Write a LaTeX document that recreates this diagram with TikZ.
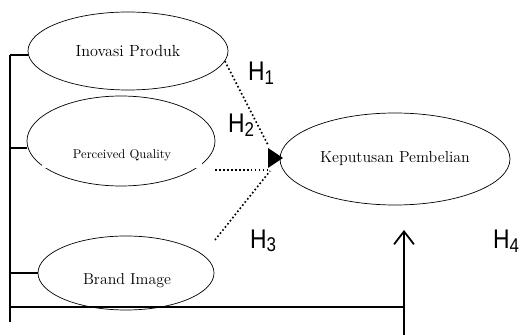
\documentclass[tikz,border=0pt]{standalone}
\usepackage{fontspec}
\usetikzlibrary{shapes.geometric,arrows.meta}
\newfontfamily\hfont{Liberation Sans}
\newcommand{\hsub}[1]{\raisebox{-3pt}{\fontsize{17}{17}\selectfont #1}}
\begin{document}
\begin{tikzpicture}[x=0.03cm,y=0.03cm,
    var/.style={draw, ellipse, inner sep=0pt, line width=0.6pt},
    hyp/.style={font=\hfont\fontsize{23}{23}\selectfont, xscale=0.85, inner sep=0pt},
    link/.style={dotted, line width=1.4pt},
    bar/.style={line width=1.5pt}]
    \useasboundingbox (0,0) rectangle (521,335);

    % Variabel
    \node[var, minimum width=6cm, minimum height=2.34cm, font=\fontsize{13.8}{14}\selectfont] (inov) at (128,284) {Inovasi Produk};
    \node[var, minimum width=5.64cm, minimum height=2.7cm] (perc) at (121,194) {};
    \node[fill=white, minimum width=4.8cm, minimum height=0.8cm, font=\fontsize{10.8}{11}\selectfont] (perct) at (122,180) {Perceived Quality};
    \node[var, minimum width=5.28cm, minimum height=2.22cm] (brand) at (126,62) {};
    \node[font=\fontsize{13.5}{14}\selectfont] (brandt) at (127,54) {Brand Image};
    \node[var, minimum width=6.9cm, minimum height=2.76cm, font=\fontsize{13.6}{14}\selectfont] (kep) at (395,176) {Keputusan Pembelian};

    % Garis kiri
    \draw[bar] (10,280) -- (10,13);
    \foreach \n/\y in {inov/280, perc/187, brand/62}
        \draw[bar] (10,\y) -- (\n.west |- 0,\y);
    \draw[bar] (10,28) -- (404,28);

    % Panah simultan
    \coordinate (up) at (404,105);
    \draw[bar, -{Straight Barb[length=11pt, width=17pt]}] (404,0) -- (up);

    % Garis putus-putus
    \coordinate (m1) at (268,190);
    \coordinate (s2) at (215,165);
    \coordinate (m2) at (268,165);
    \coordinate (s3) at (215,95);
    \coordinate (m3) at (270,164);
    \draw[link] (inov.-6) -- (m1);
    \draw[link] (s2) -- (m2);
    \draw[link] (s3) -- (m3);
    \fill (268,187) -- (283,177) -- (268,167) -- cycle;

    % Hipotesis
    \node[hyp] (h1) at (261,262) {H\hsub{1}};
    \node[hyp] (h2) at (241,210) {H\hsub{2}};
    \node[hyp] (h3) at (263,94) {H\hsub{3}};
    \node[hyp] (h4) at (506,94) {H\hsub{4}};
\end{tikzpicture}
\end{document}
